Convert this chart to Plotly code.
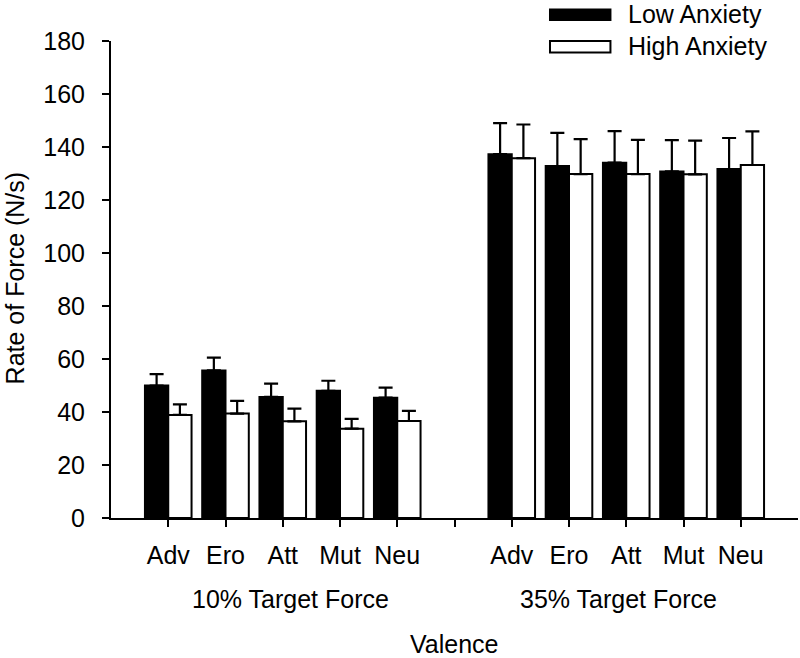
import plotly.graph_objects as go

valence = ["Adv", "Ero", "Att", "Mut", "Neu"]
conditions = ["10% Target Force", "35% Target Force"]

low_10 = [50.0, 55.7, 45.7, 48.0, 45.4]
low_10_err = [4.3, 4.8, 5.0, 3.8, 3.8]
high_10 = [38.9, 39.4, 36.5, 33.7, 36.6]
high_10_err = [4.0, 4.8, 4.8, 3.7, 3.8]

low_35 = [137.3, 132.8, 134.1, 130.8, 131.7]
low_35_err = [11.7, 12.5, 11.9, 11.8, 11.7]
high_35 = [135.8, 129.8, 129.8, 129.7, 133.2]
high_35_err = [12.7, 13.2, 12.9, 12.7, 12.7]

y_ticks = [0, 20, 40, 60, 80, 100, 120, 140, 160, 180]

# category positions: two groups separated by an empty slot
n = len(valence)
xpos = list(range(n)) + list(range(n + 1, 2 * n + 1))
tickvals = list(range(2 * n + 1))
ticktext = valence + [""] + valence

low = low_10 + low_35
low_err = low_10_err + low_35_err
high = high_10 + high_35
high_err = high_10_err + high_35_err

FONT = "Liberation Sans, Arial, sans-serif"
FS = 25

fig = go.Figure()
fig.add_trace(go.Bar(
    x=xpos, y=low, name="Low Anxiety",
    marker=dict(color="black", line=dict(color="black", width=2)),
    error_y=dict(type="data", symmetric=False, array=low_err,
                 arrayminus=[0] * len(low_err), color="black",
                 thickness=2.2, width=7),
))
fig.add_trace(go.Bar(
    x=xpos, y=high, name="High Anxiety",
    marker=dict(color="white", line=dict(color="black", width=2)),
    error_y=dict(type="data", symmetric=False, array=high_err,
                 arrayminus=[0] * len(high_err), color="black",
                 thickness=2.2, width=7),
))

fig.update_layout(
    width=800, height=658,
    margin=dict(l=111, r=2, t=41, b=140),
    paper_bgcolor="white", plot_bgcolor="white",
    barmode="group", bargap=0.186, bargroupgap=0,
    showlegend=False,
    font=dict(family=FONT, size=FS, color="black"),
)
fig.update_xaxes(
    range=[-1, 2 * n + 1], tickmode="array", tickvals=tickvals, ticktext=ticktext,
    showline=True, linecolor="black", linewidth=2,
    ticks="outside", ticklen=7, tickwidth=2, tickcolor="black",
    showgrid=False, zeroline=False, ticklabelstandoff=7,
    tickfont=dict(family=FONT, size=FS, color="black"),
)
fig.update_yaxes(
    range=[0, 180], tickmode="array", tickvals=y_ticks,
    showline=True, linecolor="black", linewidth=2,
    ticks="outside", ticklen=7, tickwidth=2, tickcolor="black",
    showgrid=False, zeroline=False, ticklabelstandoff=12,
    tickfont=dict(family=FONT, size=FS, color="black"),
)

# group labels
group_x = [(n - 1) / 2 + 0.14, n + 1 + (n - 1) / 2 - 0.14]
for gx, label in zip(group_x, conditions):
    fig.add_annotation(x=gx, xref="x", y=-0.17, yref="paper", text=label,
                       showarrow=False, xanchor="center", yanchor="middle",
                       font=dict(family=FONT, size=FS, color="black"))

fig.add_annotation(x=0.5, xref="paper", y=-0.264, yref="paper", text="Valence",
                   showarrow=False, xanchor="center", yanchor="middle",
                   font=dict(family=FONT, size=FS, color="black"))
fig.add_annotation(x=-0.14, xref="paper", y=0.504, yref="paper",
                   text="Rate of Force (N/s)", textangle=-90,
                   showarrow=False, xanchor="center", yanchor="middle",
                   font=dict(family=FONT, size=FS, color="black"))

# custom legend (wide swatches)
fig.add_shape(type="rect", xref="paper", yref="paper",
              x0=0.639, x1=0.727, y0=1.044, y1=1.066,
              fillcolor="black", line=dict(color="black", width=2))
fig.add_shape(type="rect", xref="paper", yref="paper",
              x0=0.639, x1=0.727, y0=0.976, y1=1.0,
              fillcolor="white", line=dict(color="black", width=2))
fig.add_annotation(x=0.749, xref="paper", y=1.057, yref="paper", text="Low Anxiety",
                   showarrow=False, xanchor="left", yanchor="middle",
                   font=dict(family=FONT, size=FS, color="black"))
fig.add_annotation(x=0.749, xref="paper", y=0.989, yref="paper", text="High Anxiety",
                   showarrow=False, xanchor="left", yanchor="middle",
                   font=dict(family=FONT, size=FS, color="black"))

fig.write_html("out.html", config={"displayModeBar": False},
               post_script="document.body.style.margin='0px';document.body.style.overflow='hidden';")
